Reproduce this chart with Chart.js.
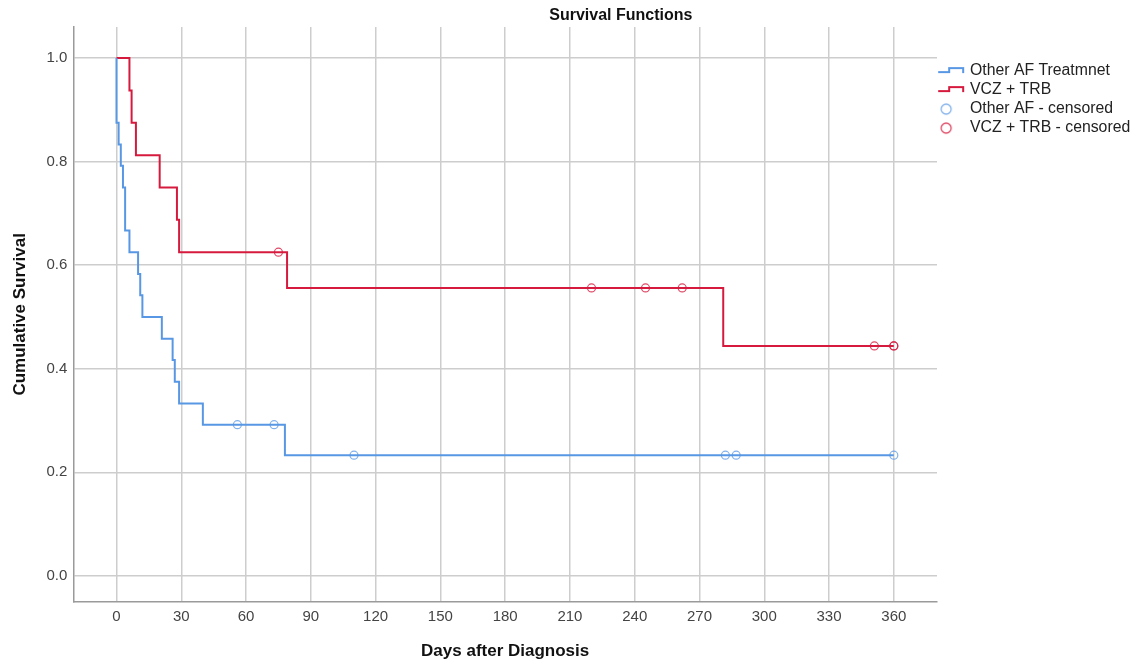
<!DOCTYPE html>
<html>
<head>
<meta charset="utf-8">
<title>Survival Functions</title>
<script src="https://cdn.jsdelivr.net/npm/chart.js@4/dist/chart.umd.min.js"></script>
<style>
  html, body { margin: 0; padding: 0; background: #fff; }
  #wrap { width: 1137px; height: 661px; }
</style>
</head>
<body>
<div id="wrap"><canvas id="survivalChart" width="1137" height="661"></canvas></div>
<script>
// Kaplan-Meier steps (day, cumulative survival)
const otherTimes = [0, 0, 1, 2, 3, 4, 6, 10, 11, 12, 21, 26, 27, 29, 40, 78, 360];
const otherSurv = [1.0, 0.875, 0.833, 0.792, 0.75, 0.667, 0.625, 0.583, 0.542, 0.5, 0.458, 0.417, 0.375, 0.333, 0.292, 0.233, 0.233];

const vczTimes = [0, 6, 7, 9, 20, 28, 29, 79, 281, 360];
const vczSurv = [1.0, 0.9375, 0.875, 0.8125, 0.75, 0.6875, 0.625, 0.556, 0.444, 0.444];

// censored marks
const otherCensTimes = [56, 73, 110, 282, 287, 360];
const otherCensSurv = [0.292, 0.292, 0.233, 0.233, 0.233, 0.233];
const vczCensTimes = [75, 220, 245, 262, 351, 360, 360];
const vczCensSurv = [0.625, 0.556, 0.556, 0.556, 0.444, 0.444, 0.444];

const seriesLabels = ['Other AF Treatmnet', 'VCZ + TRB', 'Other AF - censored', 'VCZ + TRB - censored'];
const xTickValues = [0, 30, 60, 90, 120, 150, 180, 210, 240, 270, 300, 330, 360];
const yTickValues = [0.0, 0.2, 0.4, 0.6, 0.8, 1.0];
const chartTitle = 'Survival Functions';

const BLUE = '#5897e4';
const RED = '#d61a3e';
const BLUE_CENS = 'rgba(88,151,228,0.75)';
const RED_CENS = 'rgba(214,26,62,0.8)';
const FONT = '"Liberation Sans", Arial, sans-serif';

Chart.defaults.font.family = FONT;

function toPoints(xs, ys) {
  return xs.map((x, i) => ({ x, y: ys[i] }));
}

function makeStepIcon(color) {
  const c = document.createElement('canvas');
  c.width = 30;
  c.height = 14;
  const g = c.getContext('2d');
  g.strokeStyle = color;
  g.lineWidth = 2;
  g.beginPath();
  g.moveTo(2, 8);
  g.lineTo(13, 8);
  g.lineTo(13, 4);
  g.lineTo(27, 4);
  g.lineTo(27, 9);
  g.stroke();
  return c;
}

function makeCircleIcon(color) {
  const c = document.createElement('canvas');
  c.width = 30;
  c.height = 14;
  const g = c.getContext('2d');
  g.strokeStyle = color;
  g.lineWidth = 1.3;
  g.beginPath();
  g.arc(10, 7, 5, 0, Math.PI * 2);
  g.stroke();
  return c;
}

const legendIcons = [makeStepIcon(BLUE), makeStepIcon(RED), makeCircleIcon(BLUE_CENS), makeCircleIcon(RED_CENS)];

const titlePlugin = {
  id: 'spssTitle',
  afterDraw(chart) {
    const ctx = chart.ctx;
    ctx.save();
    ctx.font = 'bold 16px ' + FONT;
    ctx.fillStyle = '#111';
    ctx.textAlign = 'center';
    ctx.textBaseline = 'middle';
    ctx.fillText(chartTitle, chart.width * 0.546, 16);
    ctx.restore();
  }
};

const ctx = document.getElementById('survivalChart').getContext('2d');

new Chart(ctx, {
  data: {
    datasets: [
      {
        type: 'line',
        label: seriesLabels[0],
        data: toPoints(otherTimes, otherSurv),
        stepped: 'before',
        borderColor: BLUE,
        borderWidth: 2,
        pointRadius: 0,
        fill: false,
        order: 1
      },
      {
        type: 'line',
        label: seriesLabels[1],
        data: toPoints(vczTimes, vczSurv),
        stepped: 'before',
        borderColor: RED,
        borderWidth: 2,
        pointRadius: 0,
        fill: false,
        order: 1
      },
      {
        type: 'scatter',
        label: seriesLabels[2],
        data: toPoints(otherCensTimes, otherCensSurv),
        pointStyle: 'circle',
        pointRadius: 4,
        borderWidth: 1.2,
        borderColor: BLUE_CENS,
        backgroundColor: 'rgba(0,0,0,0)',
        order: 0
      },
      {
        type: 'scatter',
        label: seriesLabels[3],
        data: toPoints(vczCensTimes, vczCensSurv),
        pointStyle: 'circle',
        pointRadius: 4,
        borderWidth: 1.2,
        borderColor: RED_CENS,
        backgroundColor: 'rgba(0,0,0,0)',
        order: 0
      }
    ]
  },
  options: {
    responsive: false,
    animation: false,
    devicePixelRatio: 1,
    layout: { padding: { top: 27, right: 0, bottom: 0, left: 0 } },
    plugins: {
      tooltip: { enabled: false },
      title: { display: false },
      legend: {
        position: 'right',
        align: 'start',
        fullSize: false,
        maxWidth: 200,
        title: { display: true, text: '', font: { size: 10, lineHeight: 1 }, padding: { top: 23, bottom: 0 } },
        labels: {
          usePointStyle: true,
          pointStyleWidth: 21.9,
          padding: 3.2,
          color: '#222',
          font: { size: 15.8 },
          sort: (a, b) => a.datasetIndex - b.datasetIndex,
          generateLabels(chart) {
            const items = Chart.defaults.plugins.legend.labels.generateLabels(chart);
            items.forEach(item => { item.pointStyle = legendIcons[item.datasetIndex]; });
            return items;
          }
        }
      }
    },
    scales: {
      x: {
        type: 'linear',
        min: -20,
        max: 380,
        afterBuildTicks(scale) { scale.ticks = xTickValues.map(v => ({ value: v })); },
        afterFit(scale) { scale.height = 59.3; },
        ticks: { color: '#444', font: { size: 15 }, padding: 6, callback: v => String(v) },
        grid: { color: '#cdcdcd', lineWidth: 1.5, drawTicks: false },
        border: { color: '#9a9a9a', width: 1.5 },
        title: {
          display: true,
          text: 'Days after Diagnosis',
          color: '#111',
          font: { size: 17, weight: 'bold', lineHeight: 1 },
          padding: { top: 0, bottom: 1.5 }
        }
      },
      y: {
        type: 'linear',
        min: -0.05,
        max: 1.06,
        afterBuildTicks(scale) { scale.ticks = yTickValues.map(v => ({ value: v })); },
        afterFit(scale) { scale.width = 73.3; },
        ticks: { color: '#444', font: { size: 15 }, padding: 6, callback: v => Number(v).toFixed(1) },
        grid: { color: '#cdcdcd', lineWidth: 1.5, drawTicks: false },
        border: { color: '#9a9a9a', width: 1.5 },
        title: {
          display: true,
          text: 'Cumulative Survival',
          color: '#111',
          font: { size: 17, weight: 'bold', lineHeight: 1 },
          padding: { top: 12, bottom: 0 }
        }
      }
    }
  },
  plugins: [titlePlugin]
});
</script>
</body>
</html>
